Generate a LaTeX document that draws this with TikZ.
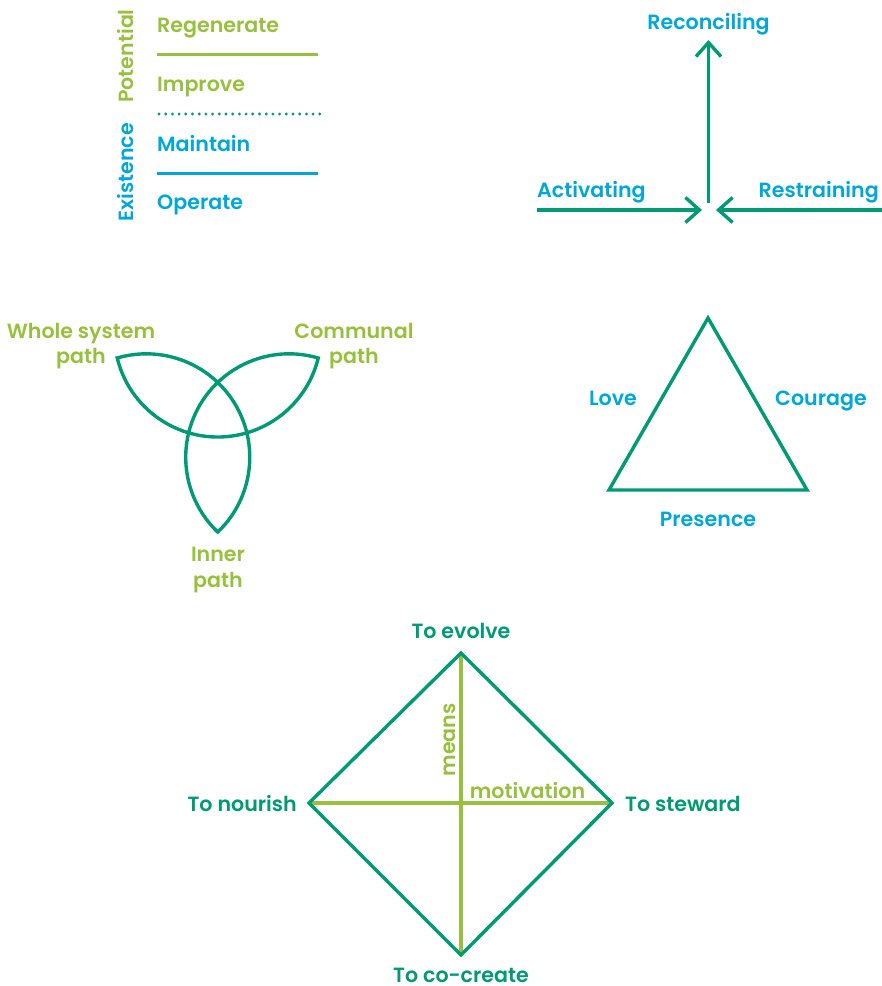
\documentclass[tikz,border=0pt]{standalone}
\usepackage{fontspec}
\setmainfont{Poppins}[BoldFont={* SemiBold}]
\usetikzlibrary{arrows.meta}
\definecolor{lgreen}{HTML}{97C13C}
\definecolor{tealg}{HTML}{009A74}
\definecolor{lblue}{HTML}{00A8DA}
\begin{document}
\begin{tikzpicture}[x=1pt,y=1pt,
  lbl/.style={font=\fontsize{20.6}{24}\selectfont\bfseries, inner sep=0pt},
  tline/.style={draw=tealg, line width=3.4pt},
  gline/.style={draw=lgreen, line width=3.4pt},
  barb/.style={-{Straight Barb[length=14pt,width=25pt]}}]
\useasboundingbox (0,0) rectangle (882,-986);

% ---------- top left: levels ----------
\node[lbl,lgreen,anchor=base west] (regen) at (157,-32) {Regenerate};
\node[lbl,lgreen,anchor=base west] (improve) at (157,-91) {Improve};
\node[lbl,lblue,anchor=base west] (maintain) at (157,-151) {Maintain};
\node[lbl,lblue,anchor=base west] (operate) at (157,-209) {Operate};
\node[lbl,lgreen,anchor=base,rotate=90] (potential) at (133,-56) {Potential};
\node[lbl,lblue,anchor=base,rotate=90] (existence) at (133,-172.5) {Existence};
\coordinate (s1a) at (157,-54);  \coordinate (s1b) at (318,-54);
\coordinate (s2a) at (159,-114); \coordinate (s2b) at (320,-114);
\coordinate (s3a) at (157,-173); \coordinate (s3b) at (318,-173);
\draw[draw=lgreen,line width=3pt] (s1a) -- (s1b);
\draw[draw=tealg,line width=3.2pt,line cap=round,dash pattern=on 0pt off 6.7pt] (s2a) -- (s2b);
\draw[draw=lblue,line width=3pt] (s3a) -- (s3b);

% ---------- top right: three forces ----------
\node[lbl,lblue,anchor=base] (reconciling) at (708.5,-29) {Reconciling};
\node[lbl,lblue,anchor=base west] (activating) at (537,-197) {Activating};
\node[lbl,lblue,anchor=base east] (restraining) at (879,-197) {Restraining};
\coordinate (vstart) at (708.5,-203);
\coordinate (vtip) at (708.5,-40);
\coordinate (lstart) at (537,-210);
\coordinate (ltip) at (702,-210);
\coordinate (rstart) at (882,-210);
\coordinate (rtip) at (716,-210);
\draw[tline,barb] (vstart) -- (vtip);
\draw[tline,barb] (lstart) -- (ltip);
\draw[tline,barb] (rstart) -- (rtip);

% ---------- middle left: three paths ----------
\draw[tline,line join=miter]
  (117.24,-358) arc[start angle=193.66,end angle=346.34,radius=103.43]
  arc[start angle=73.66,end angle=226.34,radius=103.43]
  arc[start angle=313.66,end angle=466.34,radius=103.43] -- cycle;
\node[lbl,lgreen,anchor=base] (whole) at (81,-338) {Whole system};
\node[lbl,lgreen,anchor=base] (wholep) at (81,-363) {path};
\node[lbl,lgreen,anchor=base] (communal) at (354,-338) {Communal};
\node[lbl,lgreen,anchor=base] (communalp) at (354,-363) {path};
\node[lbl,lgreen,anchor=base] (inner) at (218,-561) {Inner};
\node[lbl,lgreen,anchor=base] (innerp) at (218,-587) {path};

% ---------- middle right: triangle ----------
\coordinate (ttop) at (708,-318);
\coordinate (tright) at (807,-490);
\coordinate (tleft) at (609,-490);
\draw[tline,line join=miter] (ttop) -- (tright) -- (tleft) -- cycle;
\node[lbl,lblue,anchor=base] (love) at (613,-405) {Love};
\node[lbl,lblue,anchor=base] (courage) at (821,-405) {Courage};
\node[lbl,lblue,anchor=base] (presence) at (708,-526) {Presence};

% ---------- bottom: diamond ----------
\coordinate (dtop) at (461,-653);
\coordinate (dleft) at (309,-803);
\coordinate (dright) at (612,-803);
\coordinate (dbot) at (461,-955);
\draw[gline] (dtop) -- (dbot);
\draw[gline] (dleft) -- (dright);
\draw[tline,line join=miter] (dtop) -- (dright) -- (dbot) -- (dleft) -- cycle;
\node[lbl,tealg,anchor=base] (evolve) at (461,-638) {To evolve};
\node[lbl,tealg,anchor=base] (cocreate) at (461,-982) {To co-create};
\node[lbl,tealg,anchor=base east] (nourish) at (297,-811) {To nourish};
\node[lbl,tealg,anchor=base west] (steward) at (625,-811) {To steward};
\node[lbl,lgreen,anchor=base,rotate=90] (means) at (455,-740) {means};
\node[lbl,lgreen,anchor=base] (motivation) at (527.5,-798) {motivation};
\end{tikzpicture}
\end{document}
